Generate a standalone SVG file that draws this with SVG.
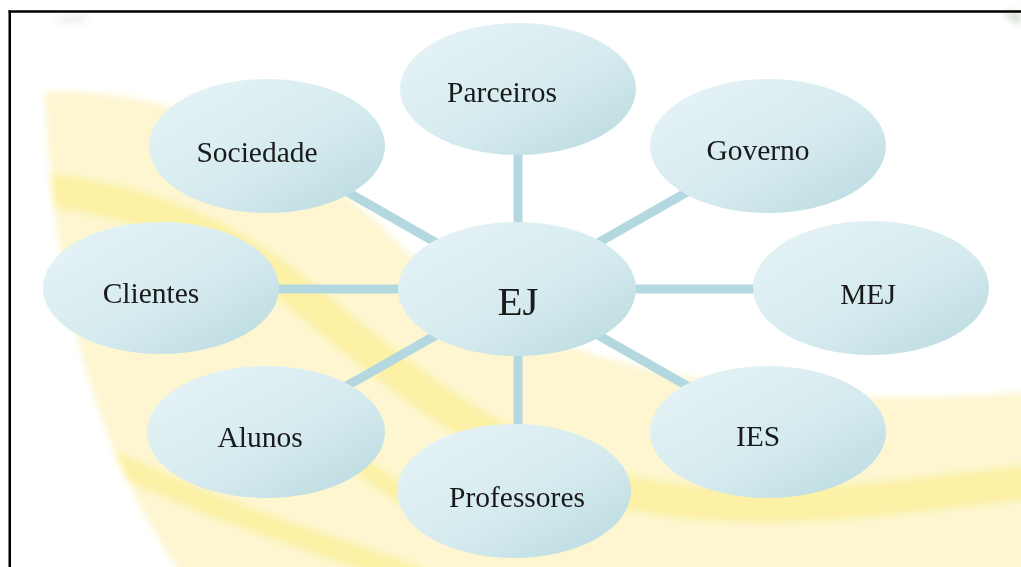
<svg xmlns="http://www.w3.org/2000/svg" width="1021" height="567" viewBox="0 0 1021 567">
  <style>
    .node { fill: url(#bubble); }
    .label { font-family: 'Liberation Serif', 'DejaVu Serif', serif; font-size: 29.5px; fill: #1a1a1a; text-anchor: middle; }
    .hub { font-size: 41px; }
    .link { stroke: #b4d8df; stroke-width: 9; fill: none; }
    .band { fill: none; stroke: #fcf09c; stroke-linecap: butt; opacity: 0.85; }
  </style>
  <defs>
    <linearGradient id="bubble" x1="0" y1="0" x2="1" y2="1">
      <stop offset="0" stop-color="#e7f4f7"/>
      <stop offset="0.55" stop-color="#d6ebef"/>
      <stop offset="1" stop-color="#b7d9df"/>
    </linearGradient>
    <filter id="soft" x="-5%" y="-5%" width="110%" height="110%">
      <feGaussianBlur stdDeviation="3.5"/>
    </filter>
    <clipPath id="swoosh-clip">
      <path d="M 45 92 C 160 86, 300 140, 400 245 C 470 312, 560 352, 680 376 C 800 398, 900 402, 1030 392 L 1030 575 L 182 575 C 110 470, 55 330, 45 92 Z"/>
    </clipPath>
  </defs>

  <rect width="1021" height="567" fill="#ffffff"/>

  <!-- background swoosh -->
  <g id="background" filter="url(#soft)">
    <path d="M 45 92 C 160 86, 300 140, 400 245 C 470 312, 560 352, 680 376 C 800 398, 900 402, 1030 392 L 1030 575 L 182 575 C 110 470, 55 330, 45 92 Z" fill="#fdf6d0"/>
    <g clip-path="url(#swoosh-clip)">
      <path class="band" stroke-width="34" d="M 30 189 C 130 196, 225 232, 300 295 C 380 360, 470 440, 600 485 C 720 522, 880 500, 1030 482"/>
      <path class="band" stroke-width="22" d="M 90 450 C 190 502, 280 530, 420 578"/>
      <path class="band" stroke-width="18" d="M 300 420 C 340 450, 380 480, 440 522"/>
    </g>
    <path d="M 1000 12 L 1021 12 L 1021 26 Z" fill="#d3ddd0"/>
    <path d="M 52 22 C 62 15, 78 13, 90 14 L 80 24 Z" fill="#efefef"/>
  </g>

  <!-- frame -->
  <line x1="8.5" y1="11.5" x2="1021" y2="11.5" stroke="#000" stroke-width="2.5"/>
  <line x1="9.75" y1="10.5" x2="9.75" y2="567" stroke="#000" stroke-width="2.5"/>

  <!-- connectors from the hub to each satellite -->
  <g id="connectors">
    <line class="link" x1="518" y1="289" x2="518" y2="89"/>
    <line class="link" x1="518" y1="289" x2="518" y2="491"/>
    <line class="link" x1="517" y1="289" x2="161" y2="289"/>
    <line class="link" x1="517" y1="289" x2="871" y2="289"/>
    <line class="link" x1="517" y1="289" x2="267" y2="146"/>
    <line class="link" x1="517" y1="289" x2="768" y2="146"/>
    <line class="link" x1="517" y1="289" x2="266" y2="432"/>
    <line class="link" x1="517" y1="289" x2="768" y2="432"/>
  </g>

  <g id="node-parceiros">
    <ellipse class="node" cx="518" cy="89" rx="118" ry="66"/>
    <text class="label" font-family="Liberation Serif, serif" x="502" y="102">Parceiros</text>
  </g>
  <g id="node-sociedade">
    <ellipse class="node" cx="267" cy="146" rx="118" ry="67"/>
    <text class="label" font-family="Liberation Serif, serif" x="257" y="162">Sociedade</text>
  </g>
  <g id="node-governo">
    <ellipse class="node" cx="768" cy="146" rx="118" ry="67"/>
    <text class="label" font-family="Liberation Serif, serif" x="758" y="160">Governo</text>
  </g>
  <g id="node-clientes">
    <ellipse class="node" cx="161" cy="288" rx="118" ry="66"/>
    <text class="label" font-family="Liberation Serif, serif" x="151" y="303">Clientes</text>
  </g>
  <g id="node-ej">
    <ellipse class="node" cx="517" cy="289" rx="119" ry="67"/>
    <text class="label hub" font-family="Liberation Serif, serif" x="518" y="315">EJ</text>
  </g>
  <g id="node-mej">
    <ellipse class="node" cx="871" cy="288" rx="118" ry="67"/>
    <text class="label" font-family="Liberation Serif, serif" x="868" y="304">MEJ</text>
  </g>
  <g id="node-alunos">
    <ellipse class="node" cx="266" cy="432" rx="119" ry="66"/>
    <text class="label" font-family="Liberation Serif, serif" x="260" y="447">Alunos</text>
  </g>
  <g id="node-ies">
    <ellipse class="node" cx="768" cy="432" rx="118" ry="66"/>
    <text class="label" font-family="Liberation Serif, serif" x="758" y="446">IES</text>
  </g>
  <g id="node-professores">
    <ellipse class="node" cx="514" cy="491" rx="117" ry="67"/>
    <text class="label" font-family="Liberation Serif, serif" x="517" y="507">Professores</text>
  </g>
</svg>
